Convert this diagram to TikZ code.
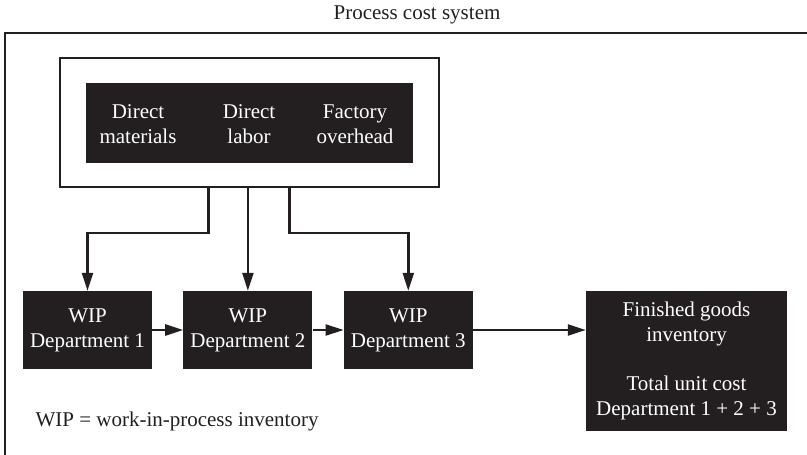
\documentclass[tikz,border=0pt]{standalone}
\usepackage{fontspec}
\setmainfont{Liberation Serif}
\usepackage{xcolor}
\usepackage{tikz}
\usetikzlibrary{arrows.meta,positioning}
\definecolor{ProcDark}{HTML}{231F20}
\newcommand{\procfont}{\fontsize{21}{25}\selectfont}
\tikzset{
  darkbox/.style={fill=ProcDark,draw=none,text=white,align=center,inner sep=0pt,
    font=\procfont},
  wipbox/.style={darkbox,minimum width=129pt,minimum height=78pt},
  costitem/.style={text=white,align=center,inner sep=0pt,font=\procfont},
  holder/.style={draw=ProcDark,line width=2.4pt,fill=white,minimum width=379pt,
    minimum height=129pt,inner sep=0pt},
  frameline/.style={draw=ProcDark,line width=2.4pt},
  flow/.style={-{Triangle[length=18pt,width=11pt]},line width=2.4pt,draw=ProcDark}
}
\begin{document}
\begin{tikzpicture}[x=1pt,y=-1pt,node distance=31pt]
  \useasboundingbox (0,0) rectangle (807,455);
  \node[text=ProcDark,font=\procfont] (title) at (417,15) {Process cost system};
  \coordinate (corner) at (5,33);
  \draw[frameline] (807,33) -- (corner) -- (5,455);
  % cost inputs
  \node[holder] (inbox) at (249.5,122.5) {};
  \node[darkbox,minimum width=327pt,minimum height=80pt] (costs) at (249.5,123) {};
  \node[costitem] (mat) at (138,124) {Direct\\materials};
  \node[costitem] (lab) at (249,124) {Direct\\labor};
  \node[costitem] (ovh) at (355,124) {Factory\\overhead};
  % departments
  \node[wipbox] (wip1) at (87.5,330) {WIP\\Department 1};
  \node[wipbox,right=of wip1] (wip2) {WIP\\Department 2};
  \node[wipbox,right=of wip2] (wip3) {WIP\\Department 3};
  \node[darkbox,minimum width=201pt,minimum height=140pt] (fg) at (686.5,361)
    {Finished goods\\inventory\\[24pt]Total unit cost\\Department 1 + 2 + 3};
  \node[text=ProcDark,font=\procfont,anchor=west] (note) at (32,421)
    {WIP = work-in-process inventory};
  \draw[flow] ([xshift=-41pt]inbox.south) -- ++(0,45) -| (wip1.north);
  \draw[flow] (wip2.north |- inbox.south) -- (wip2.north);
  \draw[flow] ([xshift=40pt]inbox.south) -- ++(0,45) -| (wip3.north);
  \draw[flow] (wip1) -- (wip2);
  \draw[flow] (wip2) -- (wip3);
  \draw[flow] (wip3.east) -- (wip3.east -| fg.west);
\end{tikzpicture}
\end{document}
